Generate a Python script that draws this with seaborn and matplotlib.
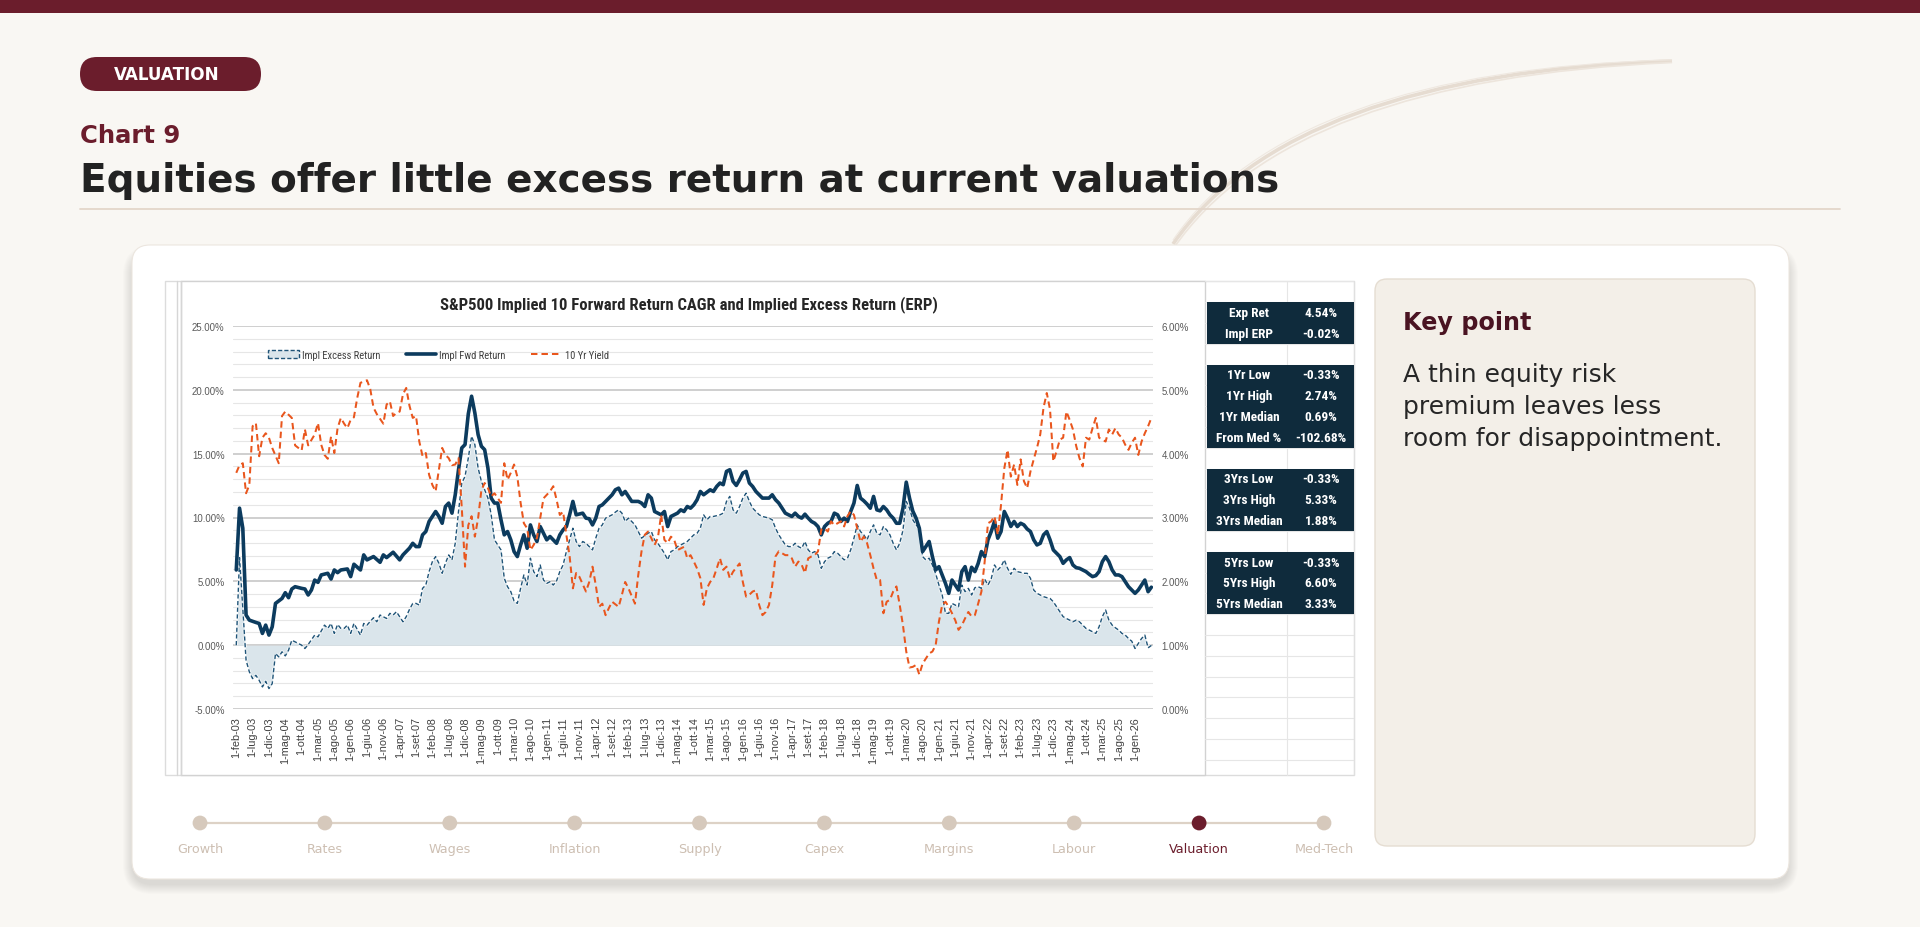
import numpy as np
import pandas as pd
import matplotlib
matplotlib.use("Agg")
import matplotlib.pyplot as plt
import seaborn as sns
from matplotlib.patches import FancyBboxPatch, Rectangle, Circle, PathPatch, Patch
from matplotlib.path import Path
from matplotlib.lines import Line2D
from matplotlib.transforms import Affine2D
import matplotlib.patheffects as pe
from matplotlib import font_manager as fm

# ---------------- DATA (months counted from 1-feb-03) ----------------
fwd_months = ([0, 1, 2, 3, 4, 6, 7, 8, 9, 10, 11, 12, 13, 14, 15, 16, 17, 18, 20, 21, 22, 23, 24, 25, 26, 28, 29,
               30, 31, 32, 34, 35, 36, 38, 39, 40, 42, 44, 45, 46, 48, 50, 51, 53, 54,
               55, 56, 57, 58, 59, 60, 61, 62, 63, 64, 65, 66, 67, 68, 69, 70, 71, 72, 73, 74, 75, 76, 77, 78, 79,
               80, 81, 82, 83, 84, 85, 86, 87, 88, 89, 90, 91, 92, 93, 95, 96, 97, 98, 99, 100, 101, 102, 103,
               104, 106, 107, 108,
               109, 110, 111, 112, 114, 115, 116, 117, 118, 119, 120, 121, 123, 124, 125, 126, 127, 128, 129,
               130, 131, 132, 133, 134, 135, 136, 137, 138, 139, 140, 141, 142, 143, 145, 146, 147, 148, 149,
               150, 151, 152, 153, 154, 155, 156, 157, 158, 159, 160, 161, 163, 164, 165]
              + list(range(166, 281)))
fwd_return = [5.89, 10.73, 9.16, 2.36, 1.96, 1.78, 1.70, 0.92, 1.57, 0.79, 1.44, 3.27, 3.46, 3.66, 4.11, 3.72,
              4.40, 4.58, 4.45, 4.40, 3.93, 4.32, 5.10, 4.92, 5.50, 5.63, 5.18, 5.89, 5.68, 5.89, 5.97, 5.37,
              6.34, 5.89, 7.07, 6.68, 6.94, 6.49, 7.07, 6.86, 7.28, 6.68, 7.07, 7.60, 7.98,
              7.72, 7.72, 8.64, 8.90, 9.69, 10.08, 10.47, 10.08, 9.55, 10.86, 11.13, 10.34, 11.78, 13.74, 15.45,
              15.71, 18.12, 19.50, 18.19, 16.49, 15.58, 15.31, 13.87, 11.52, 11.13, 11.13, 9.82, 8.64, 8.90,
              8.25, 7.33, 6.94, 7.85, 8.64, 7.59, 9.42, 8.64, 8.12, 9.29, 8.25, 8.51, 8.25, 7.98, 8.64, 9.03,
              9.29, 10.21, 11.26, 10.21, 10.34, 9.95, 9.90,
              9.42, 9.95, 10.86, 10.99, 11.52, 11.78, 12.17, 12.30, 11.78, 12.04, 11.65, 11.26, 11.26, 11.13,
              10.86, 11.78, 11.52, 10.47, 10.34, 10.21, 10.47, 9.29, 10.08, 10.21, 10.34, 10.60, 10.47, 10.86,
              10.73, 10.99, 11.39, 12.04, 11.78, 12.17, 12.04, 12.43, 12.70, 12.57, 13.61, 13.74, 12.83, 12.51,
              12.96, 13.48, 13.61, 12.70, 12.43, 12.04, 11.78, 11.52, 11.52, 11.78, 11.39,
              11.13, 10.73, 10.34, 10.21, 10.08, 10.34, 10.08, 9.95, 10.26, 9.95,
              9.69, 9.55, 9.29, 8.64, 9.29, 9.55, 9.70, 10.34, 10.21, 9.69,
              9.95, 9.69, 10.47, 11.13, 12.51, 11.52, 11.31, 11.05, 10.73, 11.65,
              10.60, 10.52, 10.86, 10.60, 10.21, 9.95, 9.55, 9.55, 10.73, 12.77,
              11.52, 10.50, 9.95, 9.16, 7.33, 7.72, 8.12, 6.94, 5.89, 6.15,
              5.50, 4.84, 4.06, 5.10, 4.71, 4.32, 5.76, 6.15, 5.10, 6.10,
              5.76, 6.40, 7.33, 6.94, 8.25, 8.90, 9.69, 8.38, 8.90, 10.47,
              9.95, 9.30, 9.69, 9.29, 9.55, 9.42, 9.10, 8.90, 8.25, 7.85,
              7.98, 8.64, 8.90, 8.25, 7.46, 7.20, 6.94, 6.41, 6.68, 6.86,
              6.28, 6.07, 6.02, 5.89, 5.76, 5.55, 5.37, 5.45, 5.76, 6.54,
              6.94, 6.54, 5.89, 5.50, 5.50, 5.37, 4.97, 4.58, 4.32, 4.06,
              4.32, 4.71, 5.10, 4.19, 4.54]

excess_months = ([0, 1, 3, 4, 5, 6, 7, 8, 9, 10, 11, 12, 13, 14, 15, 16, 17, 18, 20, 21, 22, 24, 25, 27, 28, 29,
                  30, 31, 32, 33, 34, 35, 36, 38, 39, 40, 42, 43, 44, 46, 47, 48, 49, 51, 52, 53, 54,
                  55, 56, 57, 58, 59, 60, 61, 62, 63, 64, 65, 66, 67, 68, 69, 70, 71, 72, 73, 74, 75, 76, 77, 78,
                  79, 80, 81, 82, 83, 84, 85, 86, 87, 88, 89, 90, 91, 92, 93, 94, 95, 96, 97, 98, 99, 100, 101,
                  103, 104, 105, 106, 107,
                  109, 110, 111, 112, 113, 115, 116, 117, 118, 119, 120, 122, 123, 124, 126, 127, 128, 129, 130,
                  131, 132, 133, 134, 135, 136, 138, 139, 140, 141, 142, 143, 144, 145, 146, 148, 149, 150, 151,
                  152, 153, 154, 155, 156, 157, 158, 159, 160, 161, 163, 164, 165]
                 + list(range(166, 281)))
excess_return = [0.00, 6.86, -1.18, -2.09, -2.62, -2.36, -2.75, -3.27, -2.83, -3.40, -3.01, -0.65, -0.92, -0.52,
                 -0.84, -0.39, 0.39, 0.26, 0.00, -0.26, 0.05, 0.79, 0.65, 1.57, 1.31, 1.70, 0.92, 1.62, 1.31,
                 1.31, 1.57, 0.92, 1.70, 0.79, 1.70, 1.57, 2.15, 1.83, 2.36, 2.09, 2.49, 2.36, 2.62, 1.83, 2.23,
                 2.80, 3.27,
                 3.27, 3.14, 4.45, 4.71, 5.76, 6.54, 6.94, 6.41, 5.63, 6.41, 7.07, 6.68, 7.98, 10.47, 12.70, 13.22,
                 14.66, 16.36, 15.71, 13.87, 12.83, 12.17, 11.52, 10.21, 8.25, 7.85, 7.46, 5.24, 4.58, 4.19, 3.46,
                 3.27, 4.45, 5.50, 4.71, 6.81, 5.76, 5.37, 6.28, 5.10, 4.84, 4.97, 4.71, 5.03, 5.76, 6.28, 7.33,
                 9.16, 8.12, 7.72, 8.12, 7.98,
                 7.46, 8.38, 9.16, 9.42, 9.95, 10.21, 10.42, 10.60, 10.34, 9.69, 9.95, 9.42, 8.90, 8.38, 8.77,
                 8.90, 8.25, 7.98, 7.59, 7.20, 6.68, 7.33, 7.46, 7.72, 7.85, 8.12, 8.38, 8.64, 8.77, 9.16, 10.21,
                 9.82, 10.08, 10.08, 10.21, 10.34, 11.26, 11.65, 10.60, 10.34, 10.86, 11.52, 11.91, 11.26, 10.73,
                 10.47, 10.21, 10.08, 9.95, 9.82, 9.16,
                 8.64, 8.25, 7.85, 7.72, 7.72, 7.98, 7.72, 7.59, 8.12, 7.46,
                 7.20, 7.33, 7.07, 6.02, 6.54, 6.81, 6.94, 7.33, 7.20, 6.94,
                 6.68, 6.80, 7.46, 8.38, 9.42, 8.90, 8.64, 8.25, 8.90, 9.42,
                 8.77, 8.64, 9.29, 9.03, 8.64, 7.98, 7.46, 7.98, 9.00, 11.26,
                 10.73, 9.82, 9.42, 9.16, 6.94, 6.68, 6.81, 6.28, 5.60, 4.71,
                 3.93, 2.49, 2.49, 3.27, 3.14, 3.01, 4.71, 4.19, 4.45, 3.93,
                 4.50, 4.58, 4.45, 5.17, 4.71, 5.20, 6.28, 5.89, 6.15, 6.68,
                 6.02, 5.55, 6.02, 5.76, 5.70, 5.63, 5.63, 5.24, 4.32, 4.06,
                 3.93, 3.80, 3.72, 3.66, 3.40, 3.01, 2.62, 2.23, 2.09, 1.96,
                 1.83, 1.96, 1.83, 1.57, 1.31, 1.18, 1.05, 0.92, 1.44, 2.23,
                 2.75, 1.96, 1.57, 1.36, 1.18, 0.92, 0.79, 0.52, 0.31, -0.26,
                 0.13, 0.52, 0.79, -0.21, -0.02]

yield_months = ([0, 1, 2, 3, 4, 5, 6, 7, 8, 9, 10, 11, 13, 14, 15, 17, 18, 20, 21, 22, 24, 25, 26, 27, 28, 29, 30,
                 31, 32, 33, 34, 35, 36, 37, 38, 40, 41, 42, 43, 45, 46, 47, 48, 49, 50, 51, 52, 53, 54,
                 55, 56, 57, 58, 59, 60, 61, 63, 64, 65, 66, 67, 68, 69, 70, 71, 72, 73, 74, 75, 76, 77, 78, 79,
                 81, 82, 83, 84, 85, 86, 87, 88, 89, 90, 91, 92, 93, 94, 96, 97, 98, 99, 100, 101, 102, 103, 104,
                 105, 107, 108,
                 109, 110, 111, 112, 113, 114, 115, 117, 118, 119, 120, 122, 123, 124, 125, 126, 128, 129, 130,
                 131, 132, 133, 134, 135, 137, 138, 139, 140, 141, 142, 143, 144, 145, 146, 147, 148, 149, 150,
                 151, 152, 154, 155, 156, 157, 158, 159, 160, 161, 162, 163, 164, 165]
                + list(range(166, 281)))
yield_10y = [3.70, 3.82, 3.85, 3.38, 3.51, 4.43, 4.48, 3.96, 4.25, 4.32, 4.25, 4.09, 3.85, 4.59, 4.66, 4.56, 4.13,
             4.05, 4.38, 4.13, 4.30, 4.48, 4.14, 3.98, 3.92, 4.27, 4.01, 4.40, 4.56, 4.47, 4.40, 4.53, 4.57, 4.87,
             5.11, 5.15, 5.01, 4.72, 4.62, 4.47, 4.77, 4.82, 4.59, 4.64, 4.66, 4.93, 5.03, 4.75, 4.56,
             4.59, 4.19, 3.96, 4.01, 3.67, 3.51, 3.41, 4.09, 3.98, 3.93, 3.82, 3.83, 3.93, 3.15, 2.23, 2.88, 3.02,
             2.70, 2.99, 3.43, 3.54, 3.46, 3.33, 3.38, 3.23, 3.85, 3.59, 3.70, 3.83, 3.64, 3.23, 2.91, 2.83, 2.49,
             2.57, 2.68, 2.99, 3.30, 3.41, 3.49, 3.28, 3.04, 3.09, 2.73, 2.39, 1.89, 2.13, 2.07, 1.84, 1.99,
             2.23, 1.94, 1.60, 1.65, 1.47, 1.58, 1.68, 1.60, 1.79, 1.99, 1.89, 1.65, 2.10, 2.47, 2.73, 2.78, 2.57,
             2.68, 3.04, 2.65, 2.60, 2.70, 2.65, 2.49, 2.54, 2.36, 2.41, 2.31, 2.20, 2.05, 1.63, 1.89, 1.99, 2.05,
             2.20, 2.36, 2.18, 2.23, 2.05, 2.15, 2.28, 1.99, 1.76, 1.79, 1.84, 1.86, 1.63, 1.47, 1.52, 1.63, 1.94,
             2.39,
             2.47, 2.44, 2.41, 2.41, 2.36, 2.23, 2.31, 2.26, 2.13, 2.36,
             2.39, 2.41, 2.47, 2.81, 2.83, 2.78, 2.94, 2.88, 2.91, 2.94,
             2.86, 3.02, 3.10, 3.04, 2.83, 2.62, 2.70, 2.60, 2.41, 2.20,
             2.02, 2.02, 1.50, 1.68, 1.71, 1.84, 1.92, 1.63, 1.31, 0.90,
             0.65, 0.66, 0.69, 0.54, 0.71, 0.79, 0.87, 0.90, 1.00, 1.37,
             1.63, 1.68, 1.60, 1.50, 1.39, 1.24, 1.31, 1.42, 1.52, 1.45,
             1.47, 1.65, 1.84, 2.31, 2.91, 2.94, 3.02, 2.73, 3.20, 3.77,
             4.06, 3.64, 3.83, 3.51, 3.91, 3.57, 3.46, 3.72, 3.91, 4.09,
             4.30, 4.72, 4.95, 4.69, 3.88, 4.04, 4.22, 4.25, 4.66, 4.53,
             4.38, 4.12, 3.93, 3.80, 4.25, 4.22, 4.40, 4.56, 4.25, 4.22,
             4.19, 4.38, 4.30, 4.40, 4.30, 4.25, 4.14, 4.06, 4.17, 4.25,
             3.98, 4.19, 4.32, 4.43, 4.56]

it_months = ["gen", "feb", "mar", "apr", "mag", "giu", "lug", "ago", "set", "ott", "nov", "dic"]
tick_months = list(range(0, 276, 5))
tick_labels = [f"1-{it_months[(1 + m) % 12]}-{(2003 + (1 + m) // 12) % 100:02d}" for m in tick_months]

table_blocks = [
    [("Exp Ret", "4.54%"), ("Impl ERP", "-0.02%")],
    [("1Yr Low", "-0.33%"), ("1Yr High", "2.74%"), ("1Yr Median", "0.69%"), ("From Med %", "-102.68%")],
    [("3Yrs Low", "-0.33%"), ("3Yrs High", "5.33%"), ("3Yrs Median", "1.88%")],
    [("5Yrs Low", "-0.33%"), ("5Yrs High", "6.60%"), ("5Yrs Median", "3.33%")],
]
nav_items = ["Growth", "Rates", "Wages", "Inflation", "Supply", "Capex", "Margins", "Labour", "Valuation", "Med-Tech"]
nav_active = "Valuation"

# ---------------- STYLE ----------------
sns.set_theme(style="white")
plt.rcParams["font.family"] = ["DejaVu Sans"]
avail = {f.name for f in fm.fontManager.ttflist}


def pick(cands, default):
    for c in cands:
        if c in avail:
            return c
    return default


NARROW = pick(["Liberation Sans Narrow", "Roboto Condensed", "Arial Narrow"], None)
SANS = pick(["Liberation Sans", "Arial", "Roboto"], "DejaVu Sans")
NS = 1.0 if NARROW else 0.84
if NARROW is None:
    NARROW = SANS

MAROON = "#6b1d2c"
NAVY = "#0c3b5e"
EXC = "#1f5478"
ORANGE = "#e9561d"
FILL = "#dae5eb"
TABLE = "#0f2b3c"

W, H = 1920, 928
fig = plt.figure(figsize=(W / 100, H / 100), dpi=100)
fig.patch.set_facecolor("#f9f7f3")
PX = Affine2D().scale(1, -1).translate(0, H)


def rrect(x0, y0, x1, y1, r, fc, ec="none", lw=0, z=-3, alpha=1.0):
    p = FancyBboxPatch((x0, y0), x1 - x0, y1 - y0, boxstyle=f"round,pad=0,rounding_size={r}",
                       fc=fc, ec=ec, lw=lw, transform=PX, zorder=z, alpha=alpha)
    fig.add_artist(p)
    return p


def rect(x0, y0, x1, y1, fc, ec="none", lw=0, z=-2):
    p = Rectangle((x0, y0), x1 - x0, y1 - y0, fc=fc, ec=ec, lw=lw, transform=PX, zorder=z)
    fig.add_artist(p)
    return p


def hline(x0, x1, y, color, lw=1, z=-1):
    fig.add_artist(Line2D([x0, x1], [y, y], color=color, lw=lw, transform=PX, zorder=z))


def vline(x, y0, y1, color, lw=1, z=-1):
    fig.add_artist(Line2D([x, x], [y0, y1], color=color, lw=lw, transform=PX, zorder=z))


def text(x, y, s, **kw):
    kw.setdefault("zorder", 6)
    return fig.text(x, y, s, transform=PX, **kw)


# page header
rect(0, 0, W, 14, MAROON, z=-8)
for lw, col, off in [(2.6, "#e6dcd1", 0), (1.2, "#ede5dc", 5), (0.8, "#efe8e0", -4)]:
    verts = [(1173, 245 + off), (1290, 75 + off), (1672, 62 + off * 0.3)]
    pth = Path(verts, [Path.MOVETO, Path.CURVE3, Path.CURVE3])
    fig.add_artist(PathPatch(pth, fc="none", ec=col, lw=lw, transform=PX, zorder=-7))
rrect(80, 58, 261, 92, 17, MAROON, z=-6)
text(166.5, 75.5, "VALUATION", ha="center", va="center", color="white", fontsize=12.1, fontweight="bold")
text(80, 136, "Chart 9", ha="left", va="center", color=MAROON, fontsize=17.5, fontweight="bold")
text(80, 181.5, "Equities offer little excess return at current valuations", ha="left", va="center",
     color="#222222", fontsize=28, fontweight="bold")
hline(80, 1840, 210, "#e3d6ca", lw=1.3, z=-6)

# card + shadow
for i in range(10):
    rrect(132 - i, 250 - i + 6, 1789 + i, 880 + i + 6, 20 + i, "black", z=-5, alpha=0.010)
rrect(132, 246, 1789, 880, 18, "white", ec="#ece6df", lw=0.8, z=-4)

# Excel chart container
rect(165, 282, 1354, 776, "white", ec="#dcdcdc", lw=1.0, z=-3)
vline(177, 282, 776, "#d6d6d6", lw=1.0)
vline(181, 282, 776, "#d6d6d6", lw=1.0)
rect(181, 282, 1205, 776, "white", ec="#d2d2d2", lw=1.0, z=-2.5)
row_h = 20.8
y0_rows = 282.3
n_rows = int((776 - y0_rows) / row_h)
for k in range(n_rows + 1):
    hline(1205, 1354, y0_rows + k * row_h, "#e6e6e6", lw=0.8, z=-2)
vline(1287, 282, 776, "#e6e6e6", lw=0.8, z=-2)
vline(1354, 282, 776, "#e0e0e0", lw=0.8, z=-2)

# table blocks
start_rows = [1, 4, 9, 13]
for block, sr in zip(table_blocks, start_rows):
    ya = y0_rows + sr * row_h
    yb = ya + len(block) * row_h
    rect(1207, ya, 1354, yb, TABLE, z=-1)
    for j, (lab, val) in enumerate(block):
        yc = ya + (j + 0.5) * row_h
        text(1249, yc, lab, ha="center", va="center", color="white", fontsize=9.6 * NS,
             fontweight="bold", family=NARROW)
        text(1321, yc, val, ha="center", va="center", color="white", fontsize=9.6 * NS,
             fontweight="bold", family=NARROW)

# ---------------- CHART ----------------
ax = fig.add_axes([233 / W, 1 - 710 / H, 920 / W, 383 / H])
ax.set_facecolor("none")
df_fwd = pd.DataFrame({"month": fwd_months, "value": fwd_return})
df_exc = pd.DataFrame({"month": excess_months, "value": excess_return})
df_yld = pd.DataFrame({"month": yield_months, "value": yield_10y})

ax.fill_between(df_exc["month"], df_exc["value"], 0, color=FILL, lw=0, zorder=1)
sns.lineplot(data=df_exc, x="month", y="value", ax=ax, color=EXC, lw=1.0, zorder=3)
exc_line = ax.lines[-1]
exc_line.set_dashes([3, 1.8])
exc_line.set_path_effects([pe.Stroke(linewidth=2.4, foreground="white", alpha=0.7), pe.Normal()])
sns.lineplot(data=df_fwd, x="month", y="value", ax=ax, color=NAVY, lw=2.6, zorder=4)

ax.set_xlim(-1, 280.5)
ax.set_ylim(-5, 25)
ax.set_yticks(np.arange(-5, 26, 5))
ax.set_yticks(np.arange(-5, 26, 1), minor=True)
ax.set_yticklabels([f"{v:.2f}%" for v in np.arange(-5, 26, 5)], fontsize=6.9, color="#595959", family=SANS)
ax.grid(which="major", axis="y", color="#cbcbcb", lw=1.3, zorder=0)
ax.grid(which="minor", axis="y", color="#e6e6e6", lw=0.8, zorder=0)
ax.grid(which="major", axis="x", visible=False)
ax.set_axisbelow(True)
ax.set_xticks(tick_months)
ax.set_xticklabels(tick_labels, rotation=90, fontsize=7.8, color="#404040", family=SANS, va="top", ha="center")
ax.tick_params(axis="x", length=0, pad=5)
ax.tick_params(axis="y", which="both", length=0, pad=6)
for s in ax.spines.values():
    s.set_visible(False)
ax.set_xlabel("")
ax.set_ylabel("")

ax2 = ax.twinx()
sns.lineplot(data=df_yld, x="month", y="value", ax=ax2, color=ORANGE, lw=1.45, zorder=5)
ax2.lines[-1].set_dashes([3.2, 2.0])
ax2.set_ylim(0, 6)
ax2.set_yticks(np.arange(0, 7, 1))
ax2.set_yticklabels([f"{v:.2f}%" for v in np.arange(0, 7, 1)], fontsize=6.9, color="#595959", family=SANS)
ax2.tick_params(axis="y", length=0, pad=6)
ax2.grid(False)
for s in ax2.spines.values():
    s.set_visible(False)
ax2.set_ylabel("")
ax2.set_xlim(-1, 280.5)

text(689, 305, "S&P500 Implied 10 Forward Return CAGR and Implied Excess Return (ERP)", ha="center",
     va="center", color="#262626", fontsize=12.0 * NS, fontweight="bold", family=NARROW)

handles = [Patch(fc=FILL, ec=EXC, ls=(0, (3, 1.5)), lw=1.0),
           Line2D([], [], color=NAVY, lw=2.6),
           Line2D([], [], color=ORANGE, lw=1.45, dashes=[3.2, 2.0])]
ax.legend(handles, ["Impl Excess Return", "Impl Fwd Return", "10 Yr Yield"], ncol=3, frameon=False,
          loc="center left", bbox_to_anchor=(264 / W, 1 - 356 / H), bbox_transform=fig.transFigure,
          prop={"family": NARROW, "size": 7.6 * NS}, labelcolor="#404040", handlelength=2.9,
          handleheight=0.8, handletextpad=0.3, columnspacing=2.4, borderaxespad=0)

# ---------------- KEY POINT PANEL ----------------
rrect(1375, 280, 1755, 847, 12, "#f3efe8", ec="#e5ddd2", lw=1.0, z=-3)
text(1403, 323, "Key point", ha="left", va="center", color="#4a1422", fontsize=17.2, fontweight="bold")
for k, line in enumerate(["A thin equity risk", "premium leaves less", "room for disappointment."]):
    text(1403, 375 + 32 * k, line, ha="left", va="center", color="#262626", fontsize=18.0)

# ---------------- NAV ----------------
nav_x = [200 + i * (1324 - 200) / (len(nav_items) - 1) for i in range(len(nav_items))]
hline(nav_x[0], nav_x[-1], 824, "#ddd2c6", lw=1.6, z=-1)
for x, name in zip(nav_x, nav_items):
    active = name == nav_active
    fig.add_artist(Circle((x, 824), 7.4, transform=PX, fc=MAROON if active else "#d6c9bc", ec="none", zorder=2))
    text(x, 850, name, ha="center", va="center", fontsize=9.2, color=MAROON if active else "#cdbfb2")

fig.savefig("out.png", dpi=100, facecolor=fig.get_facecolor())
